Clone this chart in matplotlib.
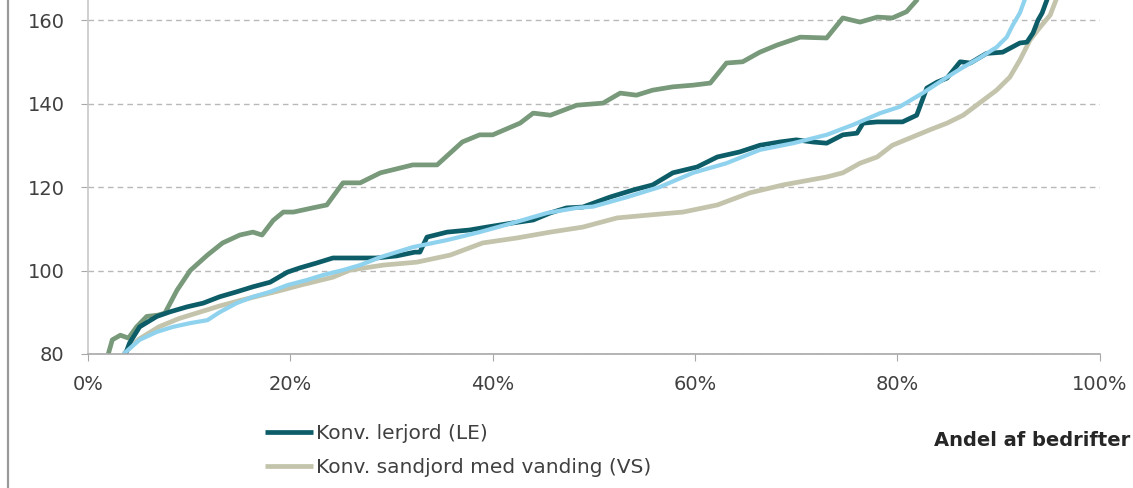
"""
Fordeling af bedrifter: fire sorterede kurver mod andel af bedrifter.
"""

import matplotlib.pyplot as plt
from matplotlib.lines import Line2D
from matplotlib.ticker import FuncFormatter

plt.rcParams['font.family'] = ['DejaVu Sans']

# Andel af bedrifter (%) og værdier for hver kurve
green_x = [2.0, 2.4, 3.2, 4.0, 4.8, 5.8, 6.9, 7.6, 8.8, 10.1, 11.8, 13.3, 15.0, 16.3,
           17.2, 18.3, 19.3, 20.3, 22.2, 23.6, 25.2, 26.9, 28.9, 32.1, 34.5, 37.0,
           38.7, 40.0, 42.7, 44.0, 45.7, 48.3, 50.9, 52.6, 54.2, 55.8, 57.8, 59.8,
           61.5, 63.1, 64.7, 66.4, 68.1, 70.4, 73.0, 74.6, 76.3, 78.0, 79.5, 80.9, 82.0]
green_y = [80, 83.4, 84.5, 83.8, 86.5, 89, 89.3, 89.8, 95.3, 100, 103.7, 106.6, 108.5,
           109.2, 108.5, 112, 114, 114, 115, 115.7, 121, 121, 123.4, 125.3, 125.3,
           130.8, 132.5, 132.5, 135.3, 137.7, 137.2, 139.6, 140.1, 142.5, 142, 143.2,
           144, 144.4, 144.9, 149.7, 150, 152.3, 154, 155.9, 155.7, 160.5, 159.5,
           160.7, 160.5, 162, 165]

le_x = [3.7, 4.1, 5.1, 6.8, 8.1, 9.8, 11.4, 13.0, 14.7, 16.3, 18.0, 19.7, 20.9, 22.6,
        24.2, 26.6, 28.5, 30.5, 32.3, 32.8, 33.5, 35.5, 37.7, 39.4, 42.0, 44.0, 45.7,
        47.3, 48.9, 51.6, 53.9, 55.8, 57.8, 60.2, 62.2, 64.4, 66.4, 68.4, 70.0, 71.6,
        73.0, 74.6, 76.0, 76.6, 78.0, 80.5, 81.9, 82.9, 83.9, 84.9, 86.2, 87.2, 88.8,
        90.4, 92.1, 92.8, 93.4, 93.9, 94.3, 94.8]
le_y = [80, 82.6, 86.5, 89, 90.1, 91.3, 92.2, 93.7, 94.9, 96.1, 97.2, 99.6, 100.6,
        101.8, 103, 103, 103, 103.5, 104.4, 104.4, 108, 109.2, 109.7, 110.4, 111.4,
        112.1, 113.8, 115, 115.2, 117.6, 119.3, 120.5, 123.4, 124.8, 127.2, 128.4,
        130, 130.8, 131.3, 130.8, 130.5, 132.5, 132.9, 135.3, 135.6, 135.6, 137.2,
        143.7, 145.1, 146.1, 150, 149.7, 152, 152.3, 154.5, 154.7, 156.9, 160, 161.7, 165]

blue_x = [3.5, 5.1, 6.8, 8.4, 10.1, 11.8, 13.0, 14.7, 16.3, 18.0, 19.7, 21.6, 23.2,
          25.2, 26.9, 28.9, 32.1, 35.5, 38.7, 42.0, 45.4, 48.3, 49.9, 53.3, 56.5,
          59.8, 63.1, 66.4, 69.7, 73.0, 75.6, 78.3, 80.2, 82.5, 84.9, 86.5, 88.1,
          89.8, 90.8, 91.4, 92.1, 92.6]
blue_y = [80, 83.4, 85.3, 86.5, 87.4, 88.1, 90, 92.2, 93.7, 94.9, 96.5, 97.7, 98.9,
          100.1, 101.3, 103.2, 105.6, 107.3, 109.2, 111.4, 113.8, 115, 115.3, 117.6,
          120, 123.4, 125.7, 128.9, 130.5, 132.5, 134.9, 137.7, 139.2, 142.5, 146.3,
          148.7, 150.9, 153.5, 155.9, 158.8, 161.7, 165]

vs_x = [3.5, 5.0, 7.0, 9.0, 11.0, 13.0, 15.0, 17.0, 19.0, 21.0, 24.2, 25.9, 29.2,
        32.5, 35.8, 39.0, 42.4, 45.7, 48.9, 52.3, 55.5, 58.8, 62.2, 65.4, 68.7, 70.5,
        73.0, 74.6, 76.3, 78.0, 79.5, 81.5, 83.2, 84.9, 86.5, 88.1, 89.8, 91.1, 92.1,
        93.1, 94.1, 95.1, 95.7]
vs_y = [80, 83.5, 86.5, 88.5, 90, 91.5, 92.8, 94, 95.2, 96.5, 98.4, 100.1, 101.3,
        102, 103.7, 106.6, 107.8, 109.2, 110.4, 112.6, 113.3, 114, 115.7, 118.6,
        120.5, 121.3, 122.4, 123.4, 125.7, 127.2, 130, 132, 133.7, 135.3, 137.2,
        140.1, 143.2, 146.3, 150.4, 155.2, 158.3, 161.2, 165]

x_ticks = [0, 20, 40, 60, 80, 100]
y_ticks = [80, 100, 120, 140, 160]

fig = plt.figure(figsize=(11.33, 4.88), dpi=100)
ax = fig.add_axes([0.0777, 0.2746, 0.893, 0.7254])

vs_line, = ax.plot(vs_x, vs_y, color='#c3c4ab', lw=3.4, solid_capstyle='butt',
                   label='Konv. sandjord med vanding (VS)')
ax.plot(green_x, green_y, color='#78997a', lw=3.4, solid_capstyle='butt')
le_line, = ax.plot(le_x, le_y, color='#0d5d68', lw=3.4, solid_capstyle='butt',
                   label='Konv. lerjord (LE)')
ax.plot(blue_x, blue_y, color='#8fd2ee', lw=3.0, solid_capstyle='butt')

ax.set_xlim(0, 100)
ax.set_ylim(80, 164.8)
ax.set_xticks(x_ticks)
ax.set_yticks(y_ticks)
ax.xaxis.set_major_formatter(FuncFormatter(lambda v, p: f'{v:.0f}%'))

# akser og gitter
ax.grid(axis='y', color='#b8b8b8', ls=(0, (4, 3)), lw=1.0)
ax.set_axisbelow(True)
for side in ['top', 'right']:
    ax.spines[side].set_visible(False)
ax.spines['left'].set_color('#c8c8c8')
ax.spines['bottom'].set_color('#a8a8a8')
ax.spines['left'].set_linewidth(1.2)
ax.spines['bottom'].set_linewidth(1.2)
ax.tick_params(axis='x', colors='#a8a8a8', length=5, pad=10, labelsize=14,
               labelcolor='#404040')
ax.tick_params(axis='y', colors='#a8a8a8', length=5, pad=12, labelsize=14,
               labelcolor='#404040')

leg = fig.legend(handles=[le_line, vs_line], loc='upper left',
                 bbox_to_anchor=(0.234, 0.131), frameon=False, fontsize=14.5,
                 handlelength=2.4, handletextpad=0.15, labelspacing=0.72,
                 borderaxespad=0, borderpad=0)
for t in leg.get_texts():
    t.set_color('#404040')

fig.text(0.998, 0.098, 'Andel af bedrifter', ha='right', va='center',
         fontsize=14, fontweight='bold', color='#262626')

# venstre kant af rammen
fig.add_artist(Line2D([0.0075, 0.0075], [0.0, 1.0], color='#9a9a9a', lw=1.6,
                      transform=fig.transFigure))

fig.savefig('out.png', dpi=100)
